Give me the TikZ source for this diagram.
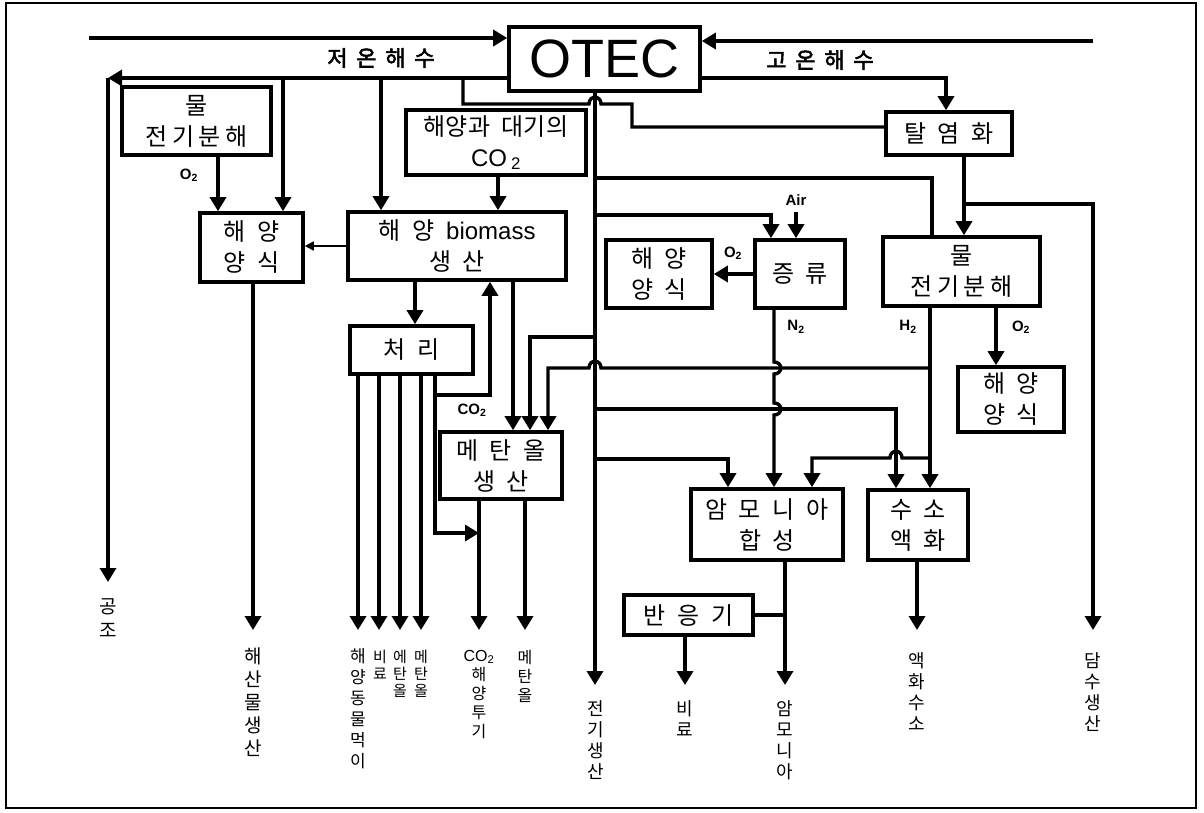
\documentclass[tikz,border=0pt]{standalone}
\usepackage{fontspec}
\setmainfont{Liberation Sans}
\newfontfamily\kr{Noto Sans CJK KR}[WordSpace=2.2,AutoFakeBold=2.5]
\usetikzlibrary{arrows.meta}
\newcommand\ks{\hspace{0.18em}}
\newcommand\kw{\hspace{0.4em}}
\begin{document}
\begin{tikzpicture}[x=1pt,y=-1pt,
  ln/.style={line width=3.4pt},
  arr/.style={line width=3.4pt,-{Triangle[length=14pt,width=16pt]}},
  sarr/.style={line width=1.8pt,-{Triangle[length=9pt,width=9pt]}},
  box/.style={draw,line width=3.6pt,inner sep=0pt,align=center,font=\kr\fontsize{24}{31}\selectfont},
  lab/.style={font=\bfseries\fontsize{15}{15}\selectfont,inner sep=0pt},
  tlab/.style={font=\kr\bfseries\fontsize{22}{22}\selectfont,inner sep=0pt},
  vlab/.style={font=\kr\fontsize{18}{21}\selectfont,align=center,inner sep=0pt,anchor=north},
  vlabs/.style={font=\kr\fontsize{16}{19}\selectfont,align=center,inner sep=0pt,anchor=north},
  vlabt/.style={font=\kr\fontsize{15}{17}\selectfont,align=center,inner sep=0pt,anchor=north}]
\useasboundingbox (0,0) rectangle (1204,812);
\draw[line width=2.4pt] (6,3) rectangle (1196,808);

% boxes
\node[box,minimum width=191pt,minimum height=64pt,font=\fontsize{54}{54}\selectfont] (otec) at (604.5,59) {OTEC};
\node[box,minimum width=149pt,minimum height=68pt] (elecL) at (196.5,121) {물\\전\ks 기\ks 분\ks 해};
\node[box,minimum width=180pt,minimum height=65pt] (co2) at (496,142.5) {해양과 대기의\\{\rmfamily CO\,\textsubscript{2}}};
\node[box,minimum width=126pt,minimum height=43pt] (desal) at (949,133.5) {탈 염 화};
\node[box,minimum width=103pt,minimum height=69pt] (aquaL) at (251.5,247.5) {해 양\\양 식};
\node[box,minimum width=218pt,minimum height=68pt] (bio) at (457,246) {해 양 {\rmfamily biomass}\\생 산};
\node[box,minimum width=106pt,minimum height=68pt] (aquaM) at (659,274) {해 양\\양 식};
\node[box,minimum width=90pt,minimum height=68pt] (dist) at (800,274) {증 류};
\node[box,minimum width=157pt,minimum height=69pt] (elecR) at (961.5,271.5) {물\\전\ks 기\ks 분\ks 해};
\node[box,minimum width=123pt,minimum height=48pt] (treat) at (411.5,350) {처 리};
\node[box,minimum width=106pt,minimum height=65pt] (aquaR) at (1011,399.5) {해 양\\양 식};
\node[box,minimum width=122pt,minimum height=67pt] (meth) at (501,465.5) {메 탄 올\\생 산};
\node[box,minimum width=152pt,minimum height=71pt] (ammo) at (767,524.5) {암 모 니 아\\합 성};
\node[box,minimum width=100pt,minimum height=70pt] (h2l) at (918,525) {수 소\\액 화};
\node[box,minimum width=129pt,minimum height=40pt] (reac) at (688.5,615) {반 응 기};

% labels
\node[tlab] (lcold) at (381,58) {저\kw 온\kw 해\kw 수};
\node[tlab] (lhot) at (820,60) {고\kw 온\kw 해\kw 수};
\node[lab] (lo2a) at (189,175) {O\textsubscript{2}};
\node[lab] (lair) at (796,200) {Air};
\node[lab] (lo2b) at (733,253) {O\textsubscript{2}};
\node[lab] (ln2) at (796,327) {N\textsubscript{2}};
\node[lab] (lh2) at (908,327) {H\textsubscript{2}};
\node[lab] (lo2c) at (1021,327) {O\textsubscript{2}};
\node[lab] (lco2) at (472,410) {CO\textsubscript{2}};

% output labels
\node[vlab,font=\kr\fontsize{19}{24}\selectfont] (o1) at (108,598) {공\\조};
\node[vlab,font=\kr\fontsize{19}{23}\selectfont] (o2) at (253,648) {해\\산\\물\\생\\산};
\node[vlabs,font=\kr\fontsize{17}{21}\selectfont] (o3) at (358,648) {해\\양\\동\\물\\먹\\이};
\node[vlabt] (o4) at (380,650) {비\\료};
\node[vlabt] (o5) at (400,650) {에\\탄\\올};
\node[vlabt] (o6) at (421,650) {메\\탄\\올};
\node[vlabs] (o7) at (479,650) {{\rmfamily CO\textsubscript{2}}\\해\\양\\투\\기};
\node[vlabs] (o8) at (525,650) {메\\탄\\올};
\node[vlab] (o9) at (596,700) {전\\기\\생\\산};
\node[vlab] (o10) at (685,700) {비\\료};
\node[vlab] (o11) at (785,700) {암\\모\\니\\아};
\node[vlab] (o12) at (917,652) {액\\화\\수\\소};
\node[vlab] (o13) at (1093,652) {담\\수\\생\\산};

% seawater in
\coordinate (cwin) at (89,38);
\draw[arr] (cwin) -- (cwin -| otec.west);
\coordinate (hwin) at (1093,41);
\draw[arr] (hwin) -- (hwin -| otec.east);

% cold seawater out
\coordinate (cl) at (108,78);
\coordinate (gongjo) at (108,582);
\draw[arr] (cl -| otec.west) -- (cl);
\draw[arr] (cl) -- (gongjo);
\coordinate (b1) at (283,78);
\draw[arr] (b1) -- (b1 |- aquaL.north);
\coordinate (b2) at (381,78);
\draw[arr] (b2) -- (b2 |- bio.north);
\coordinate (b3) at (218,155);
\draw[arr] (b3) -- (b3 |- aquaL.north);
\coordinate (b4) at (498,175);
\draw[arr] (b4) -- (b4 |- bio.north);
\draw[sarr] (bio.west) -- (bio.west -| aquaL.east);

% loop to desalination
\coordinate (d1) at (463,78);
\coordinate (d2) at (463,104);
\coordinate (d3) at (632,104);
\coordinate (d4) at (632,127);
\draw[ln] (d1) -- (d2) -- (589,104) .. controls (589,95) and (601,95) .. (601,104) -- (d3) -- (d4) -- (d4 -| desal.west);

% warm seawater out
\coordinate (h1) at (946,78);
\draw[arr] (h1 -| otec.east) -- (h1) -- (h1 |- desal.north);
\coordinate (e1) at (964,155);
\draw[arr] (e1) -- (e1 |- elecR.north);
\coordinate (w1) at (964,204);
\coordinate (w2) at (1093,204);
\coordinate (dams) at (1093,630);
\draw[arr] (w1) -- (w2) -- (dams);

% electricity trunk
\coordinate (t0) at (595,91);
\coordinate (elec) at (595,685);
\draw[arr] (t0) -- (elec);
\coordinate (p1) at (595,178);
\coordinate (p2) at (932,178);
\draw[ln] (p1) -- (p2) -- (p2 |- elecR.north);
\coordinate (q1) at (595,215);
\coordinate (q2) at (771,215);
\draw[arr] (q1) -- (q2) -- (q2 |- dist.north);
\coordinate (air) at (796,212);
\draw[arr] (air) -- (air |- dist.north);
\draw[arr] (dist.west) -- (dist.west -| aquaM.east);

% N2
\coordinate (n0) at (774,308);
\draw[arr] (n0) -- (774,362) .. controls (783,362) and (783,374) .. (774,374) -- (774,403) .. controls (783,403) and (783,415) .. (774,415) -- (n0 |- ammo.north);
% H2, O2
\coordinate (hh0) at (930,306);
\draw[arr] (hh0) -- (hh0 |- h2l.north);
\coordinate (oo0) at (996,306);
\draw[arr] (oo0) -- (oo0 |- aquaR.north);

% H2 to methanol
\coordinate (m1) at (930,368);
\coordinate (m2) at (548,368);
\draw[arr] (m1) -- (601,368) .. controls (601,359) and (589,359) .. (589,368) -- (m2) -- (m2 |- meth.north);
\coordinate (r1) at (595,337);
\coordinate (r2) at (530,337);
\draw[arr] (r1) -- (r2) -- (r2 |- meth.north);
\coordinate (s1) at (595,409);
\coordinate (s2) at (896,409);
\draw[arr] (s1) -- (s2) -- (s2 |- h2l.north);
\coordinate (u1) at (930,458);
\coordinate (u2) at (812,458);
\draw[arr] (u1) -- (902,458) .. controls (902,449) and (890,449) .. (890,458) -- (u2) -- (u2 |- ammo.north);
\coordinate (v1) at (595,459);
\coordinate (v2) at (728,459);
\draw[arr] (v1) -- (v2) -- (v2 |- ammo.north);

% biomass
\coordinate (x1) at (415,280);
\draw[arr] (x1) -- (x1 |- treat.north);
\coordinate (x2) at (513,280);
\draw[arr] (x2) -- (x2 |- meth.north);
\foreach \i/\xx in {1/358,2/379,3/400,4/421}{
  \coordinate (ts\i) at (\xx,374);
  \coordinate (te\i) at (\xx,630);
  \draw[arr] (ts\i) -- (te\i);
}
\coordinate (y0) at (435,374);
\coordinate (y1) at (435,395);
\coordinate (y2) at (490,395);
\draw[arr] (y1) -- (y2) -- (y2 |- bio.south);
\coordinate (y3) at (435,533);
\coordinate (y4) at (479,533);
\draw[arr] (y0) -- (y3) -- (y4);
\coordinate (z1) at (479,499);
\coordinate (z2) at (479,630);
\draw[arr] (z1) -- (z2);
\coordinate (z3) at (525,499);
\coordinate (z4) at (525,630);
\draw[arr] (z3) -- (z4);
\coordinate (k1) at (253,282);
\coordinate (k2) at (253,630);
\draw[arr] (k1) -- (k2);

% ammonia, reactor, hydrogen
\coordinate (a1) at (785,560);
\coordinate (a2) at (785,685);
\draw[arr] (a1) -- (a2);
\draw[ln] (reac.east) -- (reac.east -| a1);
\coordinate (rb1) at (685,635);
\coordinate (rb2) at (685,685);
\draw[arr] (rb1) -- (rb2);
\coordinate (g1) at (917,560);
\coordinate (g2) at (917,630);
\draw[arr] (g1) -- (g2);
\end{tikzpicture}
\end{document}
